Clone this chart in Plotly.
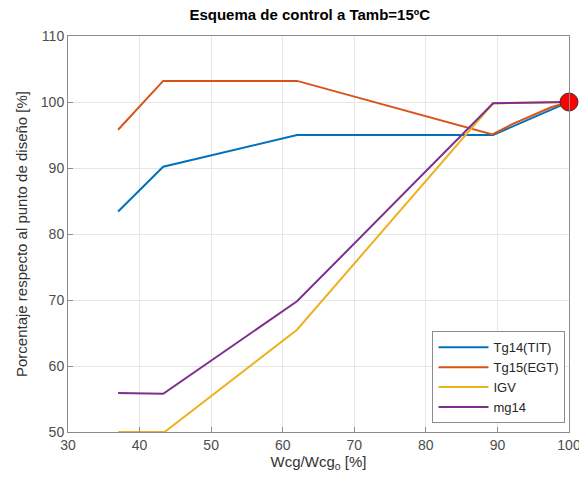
import plotly.graph_objects as go

# Operating-point data (percent of design point)
wcg = [37, 43.3, 62, 89.4, 100]
tg14_tit = [83.4, 90.2, 95.0, 95.0, 100]

wcg_egt = [37, 43.3, 62, 89.3, 92, 95, 97.5, 100]
tg15_egt = [95.8, 103.2, 103.2, 95.1, 96.6, 98.0, 99.2, 100]

wcg_igv = [37, 43.5, 62, 89.4, 100]
igv = [50, 50, 65.5, 99.8, 100]

mg14 = [55.9, 55.8, 69.8, 99.8, 100]

design_x = [100]
design_y = [100]

colors = {"blue": "#0072BD", "orange": "#D95319", "yellow": "#EDB120", "purple": "#7E2F8E"}
font_family = "Liberation Sans, Arial"

fig = go.Figure()
fig.add_trace(go.Scatter(x=wcg, y=tg14_tit, mode="lines", name="Tg14(TIT)",
                         line=dict(color=colors["blue"], width=2)))
fig.add_trace(go.Scatter(x=wcg_egt, y=tg15_egt, mode="lines", name="Tg15(EGT)",
                         line=dict(color=colors["orange"], width=2)))
fig.add_trace(go.Scatter(x=wcg_igv, y=igv, mode="lines", name="IGV",
                         line=dict(color=colors["yellow"], width=2)))
fig.add_trace(go.Scatter(x=wcg, y=mg14, mode="lines", name="mg14",
                         line=dict(color=colors["purple"], width=2)))
fig.add_trace(go.Scatter(x=design_x, y=design_y, mode="markers", showlegend=False,
                         marker=dict(color="#FF0000", size=18, line=dict(color="#333333", width=1)),
                         cliponaxis=False))

axis_common = dict(showgrid=True, gridcolor="#E6E6E6", gridwidth=1,
                   showline=True, linecolor="#8C8C8C", linewidth=1, mirror=True,
                   ticks="inside", ticklen=5, tickcolor="#8C8C8C", zeroline=False,
                   ticklabeloverflow="allow", automargin=False,
                   tickfont=dict(family=font_family, size=14, color="#4D4D4D"))

fig.update_layout(
    width=579, height=479,
    margin=dict(l=68, r=10, t=36, b=47),
    paper_bgcolor="white", plot_bgcolor="white",
    title=dict(text="<b>Esquema de control a Tamb=15ºC</b>", x=0.535, xanchor="center",
               y=0.98, yanchor="top",
               font=dict(family=font_family, size=15, color="#000000")),
    xaxis=dict(range=[30, 100], dtick=10, **axis_common,
               title=dict(text="Wcg/Wcg<sub>o</sub> [%]", standoff=4,
                          font=dict(family=font_family, size=15, color="#333333"))),
    yaxis=dict(range=[50, 110], dtick=10, **axis_common,
               title=dict(text="Porcentaje respecto al punto de diseño [%]", standoff=9,
                          font=dict(family=font_family, size=15, color="#333333"))),
    legend=dict(x=0.993, y=0.022, xanchor="right", yanchor="bottom",
                bgcolor="white", bordercolor="#8C8C8C", borderwidth=1,
                font=dict(family=font_family, size=13, color="#262626"),
                tracegroupgap=0, itemwidth=50),
    showlegend=True,
)

fig.write_html("out.html")
